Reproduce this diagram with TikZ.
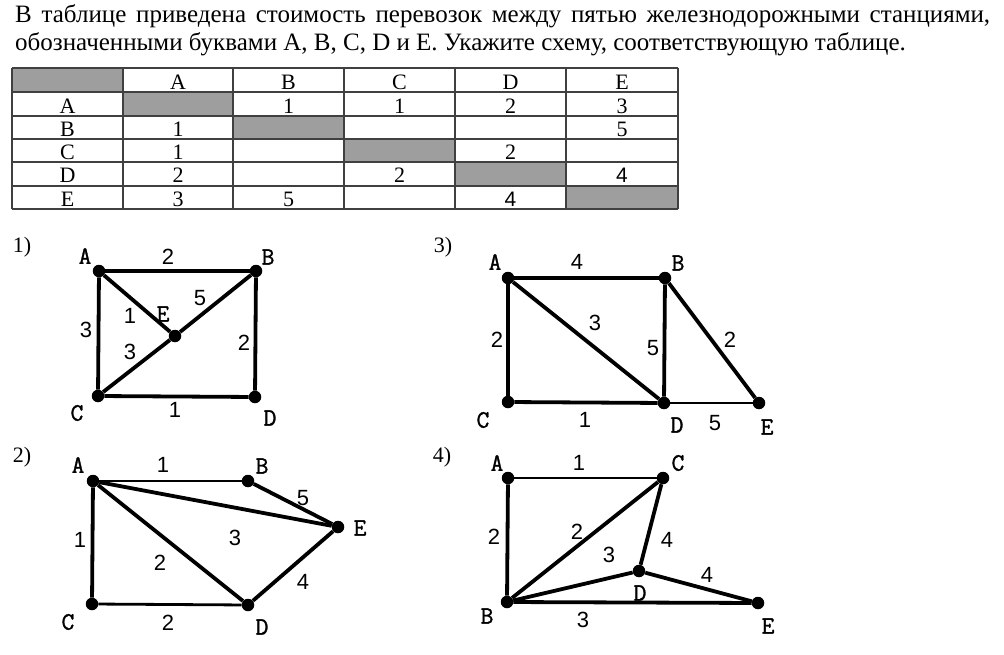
\documentclass[tikz,border=0pt]{standalone}
\usepackage{fontspec}
\setmainfont{Liberation Serif}
\newfontfamily\lsans{Liberation Sans}
\newfontfamily\lmono{Latin Modern Mono}[FakeBold=1.2]
\begin{document}
\begin{tikzpicture}[x=1pt,y=-1pt,
  v/.style={circle,fill=black,inner sep=0pt,minimum size=12.5pt},
  ed/.style={line width=3.8pt},
  ltr/.style={inner sep=0pt,font=\lmono\fontsize{25}{25}\selectfont},
  num/.style={inner sep=0pt,font=\lsans\fontsize{22}{22}\selectfont},
  qn/.style={inner sep=0pt,font=\fontsize{22}{22}\selectfont},
  txt/.style={anchor=base west,inner sep=0pt,font=\fontsize{25}{28}\selectfont},
  cell/.style={inner sep=0pt,font=\fontsize{22}{22}\selectfont},
  cellsans/.style={inner sep=0pt,font=\lsans\fontsize{21}{21}\selectfont},
  shade/.style={fill=black!38},
  grid/.style={draw=black!75,line width=1.1pt}
]
\useasboundingbox (0,0) rectangle (1004,655);

% ---------- text ----------
\node[txt] (t1) at (15,23) {\makebox[975pt][s]{В таблице приведена стоимость перевозок между пятью железнодорожными станциями,}};
\node[txt] (t2) at (15,51) {обозначенными буквами A, B, C, D и E. Укажите схему, соответствующую таблице.};

% ---------- table ----------
\fill[shade] (12,68) rectangle (123,92);
\fill[shade] (123,92) rectangle (233,116);
\fill[shade] (233,116) rectangle (344,139);
\fill[shade] (344,139) rectangle (455,162);
\fill[shade] (455,162) rectangle (566,186);
\fill[shade] (566,186) rectangle (678,209);
\foreach \y in {68,92,116,139,162,186,209} {\draw[grid] (12,\y) -- (678,\y);}
\foreach \x in {12,123,233,344,455,566,678} {\draw[grid] (\x,68) -- (\x,209);}

\node[cell] (hA) at (178,82) {A};
\node[cell] (hB) at (288.5,82) {B};
\node[cell] (hC) at (399.5,82) {C};
\node[cell] (hD) at (510.5,82) {D};
\node[cell] (hE) at (622,82) {E};
\node[cell] (rA) at (67.5,106) {A};
\node[cell] (rB) at (67.5,129) {B};
\node[cell] (rC) at (67.5,152) {C};
\node[cell] (rD) at (67.5,175.5) {D};
\node[cell] (rE) at (67.5,199) {E};
\node[cell] (cAB) at (288.5,106) {1};
\node[cell] (cAC) at (399.5,106) {1};
\node[cell] (cAD) at (510.5,106) {2};
\node[cell] (cAE) at (622,106) {3};
\node[cell] (cBA) at (178,129) {1};
\node[cell] (cBE) at (622,129) {5};
\node[cell] (cCA) at (178,152) {1};
\node[cell] (cCD) at (510.5,152) {2};
\node[cell] (cDA) at (178,175.5) {2};
\node[cell] (cDC) at (399.5,175.5) {2};
\node[cellsans] (cDE) at (622,175.5) {4};
\node[cell] (cEA) at (178,199) {3};
\node[cell] (cEB) at (288.5,199) {5};
\node[cellsans] (cED) at (510.5,199) {4};

% ---------- graph 1 ----------
\node[qn] (q1) at (22,247) {1)};
\node[v] (aA) at (99,271) {};
\node[v] (aB) at (256,271) {};
\node[v] (aC) at (98,396) {};
\node[v] (aD) at (255,397) {};
\node[v] (aE) at (175,336) {};
\draw[ed] (aA) -- (aB);
\draw[ed] (aA) -- (aC);
\draw[ed] (aA) -- (aE);
\draw[ed] (aB) -- (aE);
\draw[ed] (aB) -- (aD);
\draw[ed] (aC) -- (aE);
\draw[ed] (aC) -- (aD);
\node[ltr] (laA) at (85,256) {A};
\node[ltr] (laB) at (268,257) {B};
\node[ltr] (laC) at (77,413) {C};
\node[ltr] (laD) at (270,418) {D};
\node[ltr] (laE) at (163,314) {E};
\node[num] (na1) at (168,257) {2};
\node[num] (na2) at (130,316) {1};
\node[num] (na3) at (200,298) {5};
\node[num] (na4) at (86,330) {3};
\node[num] (na5) at (130,352) {3};
\node[num] (na6) at (244,343) {2};
\node[num] (na7) at (175,410) {1};

% ---------- graph 3 ----------
\node[qn] (q3) at (443,247) {3)};
\node[v] (cA) at (508,278) {};
\node[v] (cB) at (665,278) {};
\node[v] (cC) at (508,402) {};
\node[v] (cD) at (664,403) {};
\node[v] (cE) at (759,403) {};
\draw[ed] (cA) -- (cB);
\draw[ed] (cA) -- (cC);
\draw[ed] (cA) -- (cD);
\draw[ed] (cB) -- (cD);
\draw[ed] (cB) -- (cE);
\draw[ed] (cC) -- (cD);
\draw[line width=2.6pt] (cD) -- (cE);
\node[ltr] (lcA) at (495,262) {A};
\node[ltr] (lcB) at (678,263) {B};
\node[ltr] (lcC) at (483,420) {C};
\node[ltr] (lcD) at (677,425) {D};
\node[ltr] (lcE) at (767,427) {E};
\node[num] (nc1) at (577,262) {4};
\node[num] (nc2) at (497,340) {2};
\node[num] (nc3) at (595,323) {3};
\node[num] (nc4) at (653,348) {5};
\node[num] (nc5) at (730,340) {2};
\node[num] (nc6) at (585,420) {1};
\node[num] (nc7) at (715,423) {5};

% ---------- graph 2 ----------
\node[qn] (q2) at (22,457) {2)};
\node[v] (bA) at (93,481) {};
\node[v] (bB) at (248,481) {};
\node[v] (bC) at (92,604) {};
\node[v] (bD) at (248,605) {};
\node[v] (bE) at (338,527) {};
\draw[line width=2.8pt] (bA) -- (bB);
\draw[ed] (bA) -- (bE);
\draw[ed] (bA) -- (bD);
\draw[ed] (bA) -- (bC);
\draw[ed] (bB) -- (bE);
\draw[ed] (bD) -- (bE);
\draw[line width=2.8pt] (bC) -- (bD);
\node[ltr] (lbA) at (78,465) {A};
\node[ltr] (lbB) at (262,466) {B};
\node[ltr] (lbC) at (68,622) {C};
\node[ltr] (lbD) at (262,627) {D};
\node[ltr] (lbE) at (360,528) {E};
\node[num] (nb1) at (163,465) {1};
\node[num] (nb2) at (303,498) {5};
\node[num] (nb3) at (80,540) {1};
\node[num] (nb4) at (235,538) {3};
\node[num] (nb5) at (160,563) {2};
\node[num] (nb6) at (303,582) {4};
\node[num] (nb7) at (168,623) {2};

% ---------- graph 4 ----------
\node[qn] (q4) at (442,457) {4)};
\node[v] (dA) at (508,478) {};
\node[v] (dC) at (663,478) {};
\node[v] (dD) at (639,571) {};
\node[v] (dB) at (507,602) {};
\node[v] (dE) at (758,603) {};
\draw[line width=2.8pt] (dA) -- (dC);
\draw[ed] (dA) -- (dB);
\draw[ed] (dB) -- (dC);
\draw[ed] (dC) -- (dD);
\draw[ed] (dB) -- (dD);
\draw[ed] (dD) -- (dE);
\draw[ed] (dB) -- (dE);
\node[ltr] (ldA) at (497,463) {A};
\node[ltr] (ldC) at (678,463) {C};
\node[ltr] (ldD) at (640,593) {D};
\node[ltr] (ldB) at (487,616) {B};
\node[ltr] (ldE) at (768,626) {E};
\node[num] (nd1) at (579,463) {1};
\node[num] (nd2) at (494,537) {2};
\node[num] (nd3) at (577,532) {2};
\node[num] (nd4) at (609,555) {3};
\node[num] (nd5) at (667,540) {4};
\node[num] (nd6) at (707,575) {4};
\node[num] (nd7) at (583,620) {3};
\end{tikzpicture}
\end{document}
